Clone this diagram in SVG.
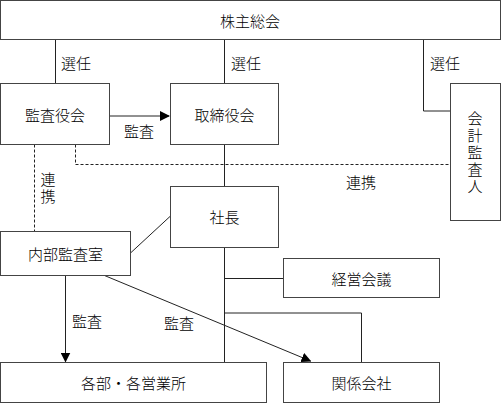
<svg xmlns="http://www.w3.org/2000/svg" width="501" height="403" viewBox="0 0 501 403">
<style>
.box{fill:#fff;stroke:#444;stroke-width:1}
.ln{fill:none;stroke:#222;stroke-width:1}
.dash{fill:none;stroke:#222;stroke-width:1;stroke-dasharray:3,2}
text{font-family:"Noto Sans CJK JP","Noto Sans",sans-serif;font-size:15px;fill:#000;font-weight:300}
.c{text-anchor:middle;dominant-baseline:central}
.v{writing-mode:vertical-rl;text-anchor:middle;letter-spacing:2px}
</style>
<defs>
<marker id="ah" markerWidth="10" markerHeight="10" refX="9" refY="5" orient="auto" markerUnits="userSpaceOnUse">
<path d="M0,0 L10,5 L0,10 Z" fill="#000"/>
</marker>
</defs>
<rect width="501" height="403" fill="#fff"/>
<g id="connectors">
<line class="ln" x1="55.5" y1="39.5" x2="55.5" y2="83.5"/>
<line class="ln" x1="224.5" y1="39.5" x2="224.5" y2="83.5"/>
<polyline class="ln" points="423.5,39.5 423.5,111 450.5,111"/>
<line class="ln" x1="109.5" y1="116" x2="169" y2="116" marker-end="url(#ah)"/>
<line class="dash" x1="34.5" y1="144.5" x2="34.5" y2="231"/>
<polyline class="dash" points="75.5,144.5 75.5,164.5 450.5,164.5"/>
<line class="ln" x1="224.5" y1="144.5" x2="224.5" y2="186.5"/>
<line class="ln" x1="130.5" y1="253" x2="170.5" y2="216"/>
<line class="ln" x1="224.5" y1="247.5" x2="224.5" y2="362.5"/>
<line class="ln" x1="224.5" y1="278.5" x2="283.5" y2="278.5"/>
<polyline class="ln" points="224.5,313 361.5,313 361.5,362.5"/>
<line class="ln" x1="65.5" y1="275.5" x2="65.5" y2="361.5" marker-end="url(#ah)"/>
<line class="ln" x1="104.5" y1="275.5" x2="310.5" y2="361" marker-end="url(#ah)"/>
<text x="61" y="62" dominant-baseline="central">選任</text>
<text x="231" y="62" dominant-baseline="central">選任</text>
<text x="430" y="62" dominant-baseline="central">選任</text>
<text x="124" y="130" dominant-baseline="central">監査</text>
<text class="v" x="48" y="189">連携</text>
<text x="346" y="181" dominant-baseline="central">連携</text>
<text x="72" y="320" dominant-baseline="central">監査</text>
<text x="164" y="322" dominant-baseline="central">監査</text>
</g>
<g id="shareholders"><rect class="box" x="0.5" y="0.5" width="500" height="39"/><text class="c" x="250" y="20">株主総会</text></g>
<g id="auditboard"><rect class="box" x="0.5" y="83.5" width="109" height="61"/><text class="c" x="55" y="114">監査役会</text></g>
<g id="board"><rect class="box" x="170.5" y="83.5" width="108" height="61"/><text class="c" x="224.5" y="114">取締役会</text></g>
<g id="accountant"><rect class="box" x="450.5" y="83.5" width="50" height="137"/>
<text class="v" x="475" y="153">会計監査人</text></g>
<g id="president"><rect class="box" x="170.5" y="186.5" width="108" height="61"/><text class="c" x="224.5" y="216">社長</text></g>
<g id="internalaudit"><rect class="box" x="0.5" y="231.5" width="130" height="44"/><text class="c" x="65.5" y="253">内部監査室</text></g>
<g id="mgmtmeeting"><rect class="box" x="283.5" y="258.5" width="156" height="39"/><text class="c" x="361.5" y="278">経営会議</text></g>
<g id="departments"><rect class="box" x="0.5" y="362.5" width="266" height="40"/><text class="c" x="133.5" y="382">各部・各営業所</text></g>
<g id="affiliates"><rect class="box" x="283.5" y="362.5" width="156" height="40"/><text class="c" x="361.5" y="382">関係会社</text></g>
</svg>
